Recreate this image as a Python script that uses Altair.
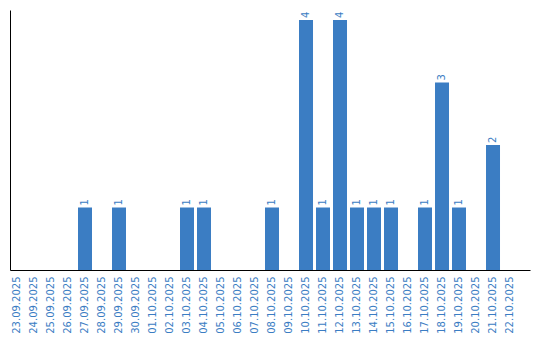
import altair as alt
import pandas as pd

dates = ["23.09.2025", "24.09.2025", "25.09.2025", "26.09.2025", "27.09.2025",
         "28.09.2025", "29.09.2025", "30.09.2025", "01.10.2025", "02.10.2025",
         "03.10.2025", "04.10.2025", "05.10.2025", "06.10.2025", "07.10.2025",
         "08.10.2025", "09.10.2025", "10.10.2025", "11.10.2025", "12.10.2025",
         "13.10.2025", "14.10.2025", "15.10.2025", "16.10.2025", "17.10.2025",
         "18.10.2025", "19.10.2025", "20.10.2025", "21.10.2025", "22.10.2025"]
counts = [0, 0, 0, 0, 1,
          0, 1, 0, 0, 0,
          1, 1, 0, 0, 0,
          1, 0, 4, 1, 4,
          1, 1, 1, 0, 1,
          3, 1, 0, 2, 0]

df = pd.DataFrame({"date": dates, "count": counts})
df["label"] = [str(c) if c > 0 else "" for c in counts]

BLUE = "#3b7dc3"

x = alt.X("date:N", sort=dates, title=None,
          scale=alt.Scale(paddingInner=3/17, paddingOuter=0.382, align=0),
          axis=alt.Axis(labelAngle=-90, labelColor=BLUE, labelFont="DejaVu Sans",
                        labelFontSize=10, ticks=False, labelPadding=6,
                        domainColor="black", domainWidth=1, grid=False))
y = alt.Y("count:Q", title=None, scale=alt.Scale(domain=[0, 4.16], nice=False),
          axis=alt.Axis(labels=False, ticks=False, grid=False,
                        domainColor="black", domainWidth=1))

bars = alt.Chart(df).mark_bar(color=BLUE).encode(x=x, y=y)
text = alt.Chart(df).mark_text(angle=270, align="left", baseline="middle", dx=2,
                               color=BLUE, font="DejaVu Sans", fontSize=10).encode(
    x=alt.X("date:N", sort=dates), y="count:Q", text="label:N")

chart = (bars + text).properties(
    width=520, height=260,
    background="white",
    autosize=alt.AutoSizeParams(type="none"),
    padding={"left": 10, "top": 10, "right": 10, "bottom": 70},
).configure_view(strokeWidth=0, stroke="transparent")

chart.save("out.html", embed_options={"renderer": "svg", "actions": False})
